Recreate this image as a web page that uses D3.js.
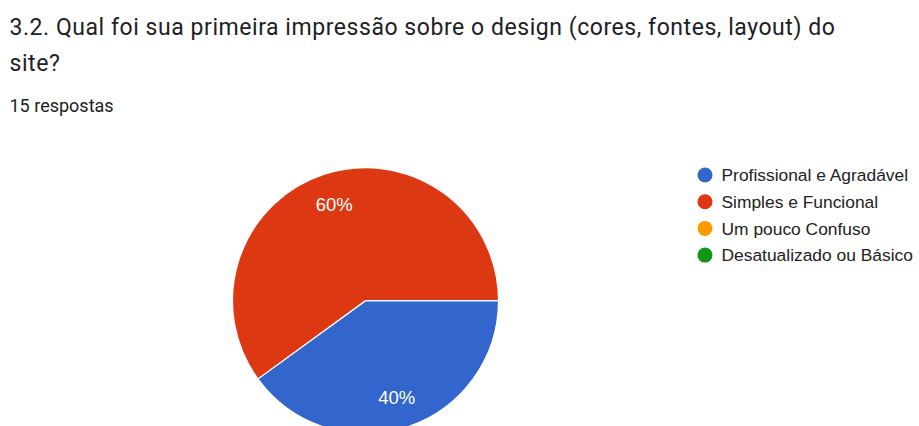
<!DOCTYPE html>
<html><head><meta charset="utf-8">
<script src="https://cdn.jsdelivr.net/npm/d3@7"></script>
<style>body{margin:0;background:#fff;}svg{display:block;}</style>
</head><body>
<svg id="chart" width="919" height="426"></svg>
<script>
const titleLines = ["3.2. Qual foi sua primeira impressão sobre o design (cores, fontes, layout) do", "site?"];
const subtitle = "15 respostas";
const categories = ["Profissional e Agradável", "Simples e Funcional", "Um pouco Confuso", "Desatualizado ou Básico"];
const values = [6, 9, 0, 0];
const colors = ["#3366cc", "#dc3912", "#ff9900", "#109618"];

const svg = d3.select("#chart");
const W = 919, H = 426;
svg.append("rect").attr("width", W).attr("height", H).attr("fill", "#fff");

svg.selectAll("text.title").data(titleLines).join("text")
  .attr("class", "title")
  .attr("x", 9.5).attr("y", (d, i) => 35 + i * 36)
  .attr("font-family", "Roboto").attr("font-size", 23).attr("letter-spacing", 0.55)
  .attr("fill", "#202124")
  .text(d => d);

svg.append("text").attr("x", 9.5).attr("y", 112)
  .attr("font-family", "Roboto").attr("font-size", 18).attr("fill", "#202124")
  .text(subtitle);

const cx = 365.5, cy = 300.7, r = 133;
const total = d3.sum(values);
const pie = d3.pie().sort(null).value(d => d)
  .startAngle(Math.PI / 2).endAngle(Math.PI / 2 + 2 * Math.PI);
const arcs = pie(values);
const arc = d3.arc().innerRadius(0).outerRadius(r);
const labelArc = d3.arc().innerRadius(r * 0.76).outerRadius(r * 0.76);

const g = svg.append("g").attr("transform", `translate(${cx},${cy})`);
g.selectAll("path").data(arcs.filter(a => a.value > 0)).join("path")
  .attr("d", arc)
  .attr("fill", d => colors[d.index])
  .attr("stroke", "#fff").attr("stroke-width", 1.2);

g.selectAll("text").data(arcs.filter(a => a.value > 0)).join("text")
  .attr("transform", d => `translate(${labelArc.centroid(d)})`)
  .attr("text-anchor", "middle").attr("dy", "0.36em")
  .attr("font-family", "Arial, 'Liberation Sans'").attr("font-size", 18.5)
  .attr("fill", "#fff")
  .text(d => Math.round(d.value / total * 100) + "%");

const legend = svg.append("g").attr("transform", "translate(705,175)");
const rows = legend.selectAll("g").data(categories).join("g")
  .attr("transform", (d, i) => `translate(0,${i * 26.7})`);
rows.append("circle").attr("r", 7.5).attr("fill", (d, i) => colors[i]);
rows.append("text").attr("x", 16.5).attr("dy", "0.36em")
  .attr("font-family", "Arial, 'Liberation Sans'").attr("font-size", 17.4)
  .attr("fill", "#222").text(d => d);
</script>
</body></html>
